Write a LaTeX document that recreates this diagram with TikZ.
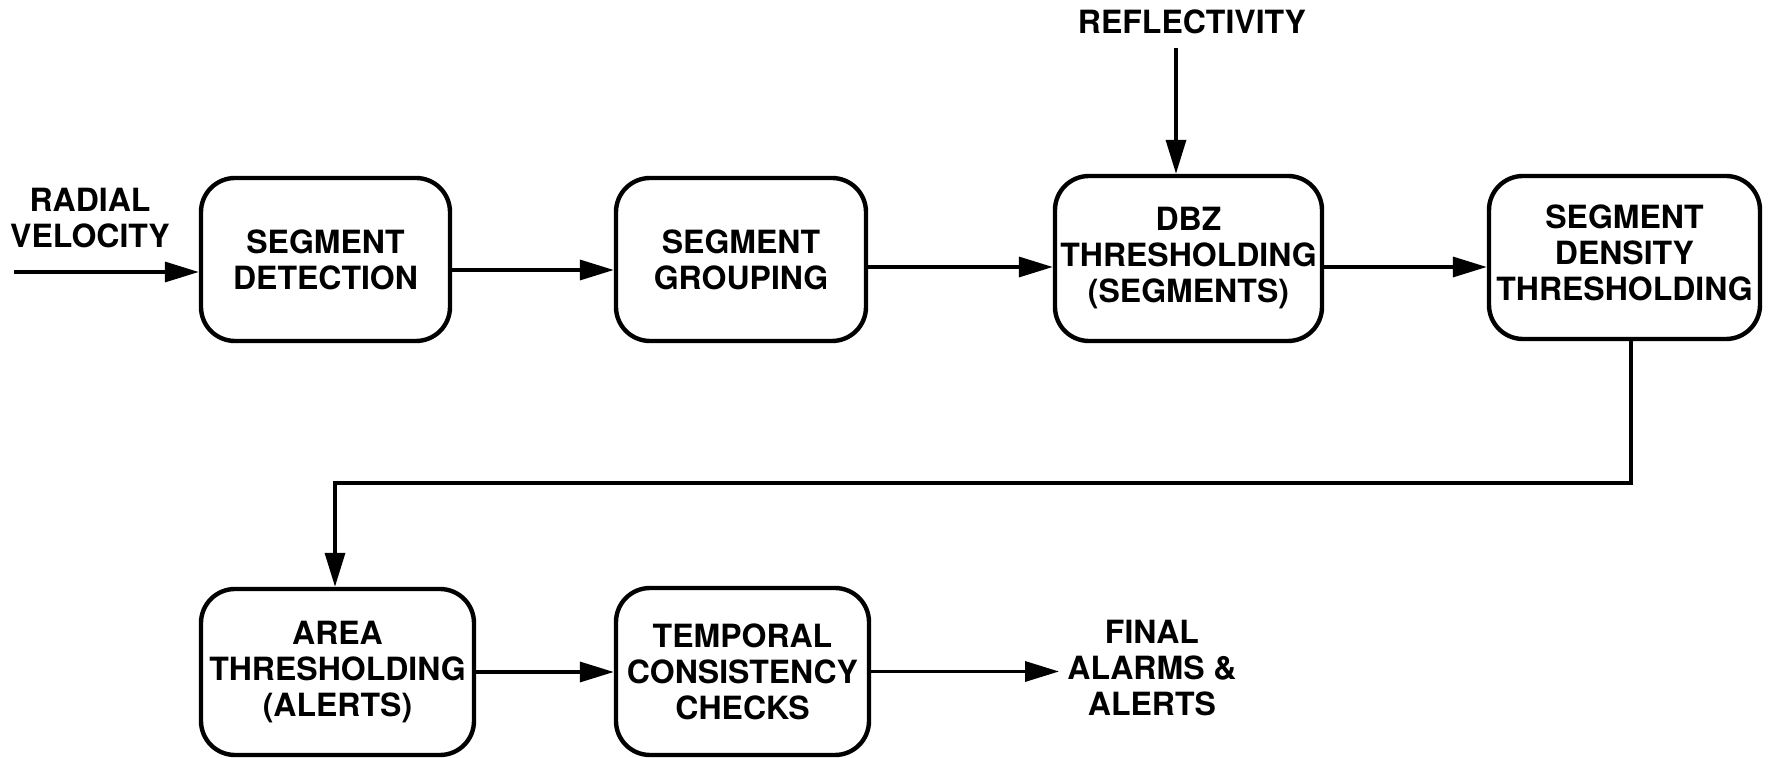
\documentclass[tikz,border=0pt]{standalone}
\usepackage{fontspec}
\setmainfont{TeX Gyre Heros}
\usetikzlibrary{arrows.meta}
\tikzset{
  lbl/.style={font=\bfseries\fontsize{16}{18}\selectfont, align=center, inner sep=2pt},
  procbox/.style={lbl, draw, line width=2.2pt, rounded corners=17pt, inner sep=0pt},
  arr/.style={line width=1.7pt, -{Triangle[length=17pt,width=10pt]}},
}
\begin{document}
\begin{tikzpicture}[x=0.5pt,y=-0.5pt]
\useasboundingbox (0,0) rectangle (1769,758);
% process boxes
\node[procbox, minimum width=124.5pt, minimum height=81.5pt] (det) at (325.5,259.5) {SEGMENT\\DETECTION};
\node[procbox, minimum width=125pt, minimum height=81.5pt] (grp) at (741,259.5) {SEGMENT\\GROUPING};
\node[procbox, minimum width=133.5pt, minimum height=82.5pt] (dbz) at (1188.5,258.5) {DBZ\\THRESHOLDING\\(SEGMENTS)};
\node[procbox, minimum width=135.5pt, minimum height=81.5pt, text depth=5pt] (den) at (1624.5,257.5) {SEGMENT\\DENSITY\\THRESHOLDING};
\node[procbox, minimum width=136.5pt, minimum height=83pt] (area) at (337.5,672) {AREA\\THRESHOLDING\\(ALERTS)};
\node[procbox, minimum width=126.5pt, minimum height=83.5pt] (tmp) at (742.5,671.5) {TEMPORAL\\CONSISTENCY\\CHECKS};
% labels
\node[lbl] (rv) at (90,218) {RADIAL\\VELOCITY};
\node[lbl] (refl) at (1192,22) {REFLECTIVITY};
\node[lbl, inner sep=4pt] (fin) at (1152,668) {FINAL\\ALARMS \&\\ALERTS};
% connector helper coordinates
\coordinate (rvin) at (14,272);
\coordinate (reflout) at (1176,48);
\coordinate (fb) at (335,483);
% connectors
\draw[arr] (rvin) -- (det.west |- rvin);
\draw[arr] (det.east |- 0,270) -- (grp.west |- 0,270);
\draw[arr] (grp.east |- 0,267) -- (dbz.west |- 0,267);
\draw[arr] (dbz.east |- 0,267) -- (den.west |- 0,267);
\draw[arr] (reflout) -- (dbz.north -| reflout);
\draw[arr] (den.south -| 1631,0) |- (fb) -- (area.north -| fb);
\draw[arr] (area.east) -- (tmp.west |- area.east);
\draw[arr] (tmp.east) -- (fin.west |- tmp.east);
\end{tikzpicture}
\end{document}
